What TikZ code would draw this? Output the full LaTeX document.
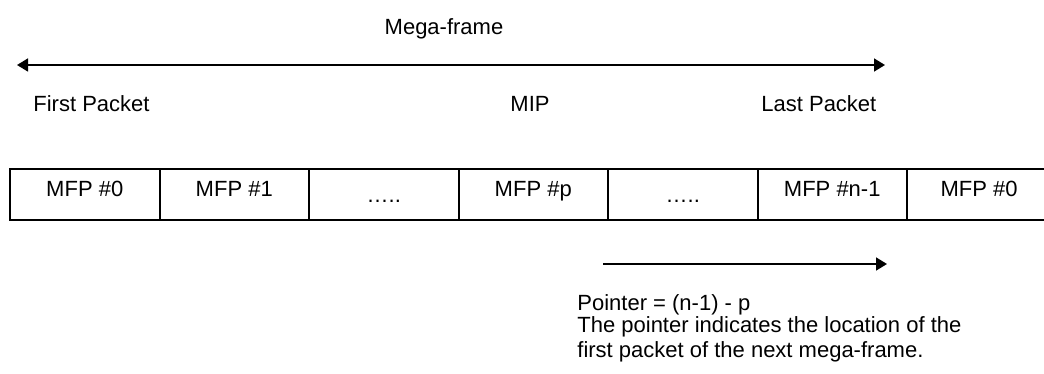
\documentclass[tikz,border=0pt]{standalone}
\usepackage{fontspec}
\setmainfont{Liberation Sans}
\usepackage{tikz}
\usetikzlibrary{positioning,arrows.meta}
\tikzset{
  lbl/.style={inner sep=0pt,font=\fontsize{11}{13}\selectfont},
  mfp/.style={draw,line width=1pt,inner sep=0pt,outer sep=0pt,
    minimum width=74.75pt,minimum height=25.5pt,
    text height=8pt,text depth=6.5pt,font=\fontsize{11}{13}\selectfont},
  gap/.style={mfp,text depth=0.5pt},
  span/.style={line width=0.8pt,{Triangle[length=5.5pt,width=6.5pt]}-{Triangle[length=5.5pt,width=6.5pt]}},
  ptr/.style={line width=0.8pt,-{Triangle[length=5.5pt,width=6.5pt]}}
}

\begin{document}
\begin{tikzpicture}[x=0.5pt,y=-0.5pt]
\useasboundingbox (0,0) rectangle (1044,374);
% mega-frame span
\node[lbl,anchor=base] (mf) at (444,35) {Mega-frame};
\coordinate (mfl) at (17,65);
\coordinate (mfr) at (885,65);
\draw[span] (mfl) -- (mfr);
\node[lbl,anchor=base west] (first) at (33,112) {First Packet};
\node[lbl,anchor=base] (mip) at (530,112) {MIP};
\node[lbl,anchor=base west] (last) at (761,112) {Last Packet};
% frame packets
\node[mfp,anchor=west] (c0) at (10,194.5) {MFP \#0};
\node[mfp,right=0pt of c0] (c1) {MFP \#1};
\node[gap,right=0pt of c1] (c2) {…..};
\node[mfp,right=0pt of c2] (c3) {MFP \#p};
\node[gap,right=0pt of c3] (c4) {…..};
\node[mfp,right=0pt of c4] (c5) {MFP \#n-1};
\node[mfp,right=0pt of c5,minimum width=72pt] (c6) {MFP \#0};
% pointer
\coordinate (pl) at (603,264);
\coordinate (pr) at (887,264);
\draw[ptr] (pl) -- (pr);
\node[lbl,anchor=base west] (ptr1) at (577,310) {Pointer = (n-1) - p};
\node[lbl,anchor=base west] (ptr2) at (577,332) {The pointer indicates the location of the};
\node[lbl,anchor=base west] (ptr3) at (577,357) {first packet of the next mega-frame.};
\end{tikzpicture}
\end{document}
